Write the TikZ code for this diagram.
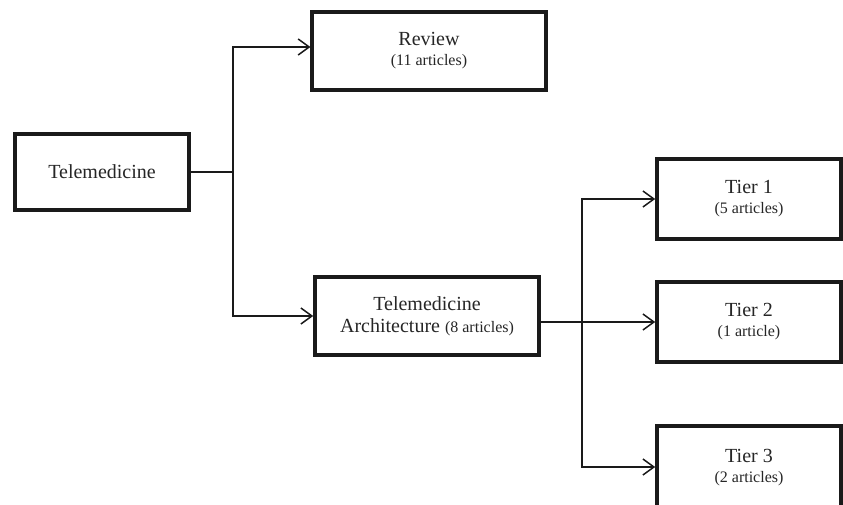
\documentclass[tikz,border=0pt]{standalone}
\usepackage{fontspec}
\setmainfont{Liberation Serif}
\usepackage{xcolor}
\usepackage{tikz}
\usetikzlibrary{arrows.meta,calc,positioning}
\definecolor{ink}{HTML}{1A1A1A}
\definecolor{txt}{HTML}{262626}
\newcommand{\artcount}[1]{{\fontsize{16}{19}\selectfont(#1)}}
\tikzset{box/.style={draw=ink,line width=3.6pt,fill=white,text=txt,align=center,inner sep=0pt,font=\fontsize{20}{21}\selectfont},link/.style={draw=ink,line width=1.5pt},arrow/.style={link,-{Straight Barb[length=11pt,width=16pt]}}}

\begin{document}
\begin{tikzpicture}[x=1pt,y=-1pt]
 \useasboundingbox (0,0) rectangle (843,505);
 \node[box,minimum width=173.5pt,minimum height=76pt] (tele) at (102,172) {Telemedicine};
 \node[box,minimum width=233.5pt,minimum height=78pt] (review) at (429,51) {Review\\[-1pt]\artcount{11 articles}};
 \node[box,minimum width=224pt,minimum height=78pt] (arch) at (427,316) {Telemedicine\\[1pt]Architecture \artcount{8 articles}};
 \node[box,minimum width=184pt,minimum height=80pt] (tier1) at (749,199) {Tier 1\\[-1pt]\artcount{5 articles}};
 \node[box,minimum width=184pt,minimum height=80pt] (tier2) at (749,322) {Tier 2\\[-1pt]\artcount{1 article}};
 \node[box,minimum width=184pt,minimum height=84pt] (tier3) at (749,468) {Tier 3\\[-1pt]\artcount{2 articles}};
 \coordinate (fork1) at (233,172); \coordinate (fork2) at (582,322);
 \draw[link] (tele.east) -- (fork1);
 \draw[arrow] (fork1) |- ([yshift=4pt]review.west); \draw[arrow] (fork1) |- (arch.west);
 \draw[arrow] (arch.east |- tier2.west) -- (tier2.west);
 \draw[arrow] (fork2) |- (tier1.west); \draw[arrow] (fork2) |- ([yshift=1pt]tier3.west);
\end{tikzpicture}
\end{document}
